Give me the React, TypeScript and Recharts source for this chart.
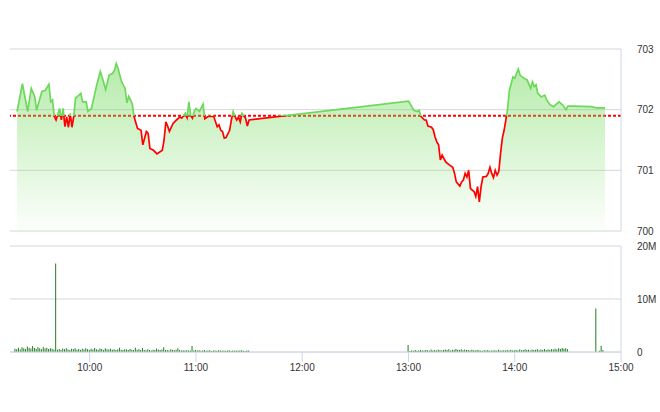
import React from 'react';
import { ComposedChart, Area, Line, Bar, XAxis, YAxis, CartesianGrid, ReferenceLine } from 'recharts';

// ---- data ----
const priceTimes = [
  '9:19', '9:22', '9:25', '9:27', '9:29', '9:30', '9:33', '9:35', '9:37', '9:38', '9:39', '9:40',
  '9:41', '9:43', '9:44', '9:45', '9:46', '9:47', '9:48', '9:49', '9:50', '9:51', '9:52', '9:55',
  '9:56', '9:58', '9:59', '10:01', '10:04', '10:06', '10:07', '10:09', '10:11', '10:13', '10:14', '10:15',
  '10:16', '10:18', '10:20', '10:21', '10:22', '10:24', '10:25', '10:27', '10:29', '10:30', '10:32', '10:33',
  '10:34', '10:36', '10:38', '10:41', '10:42', '10:43', '10:44', '10:45', '10:47', '10:49', '10:51', '10:52',
  '10:54', '10:55', '10:56', '10:57', '10:58', '10:59', '11:00', '11:02', '11:04', '11:05', '11:07', '11:10',
  '11:12', '11:13', '11:14', '11:15', '11:16', '11:17', '11:19', '11:20', '11:21', '11:22', '11:23', '11:24',
  '11:25', '11:26', '11:28', '11:29', '11:30',
  '13:00', '13:03', '13:05', '13:06', '13:07', '13:09', '13:10', '13:11', '13:13', '13:14', '13:15', '13:16',
  '13:17', '13:18', '13:19', '13:21', '13:23', '13:25', '13:26', '13:27', '13:29', '13:30', '13:31', '13:32',
  '13:33', '13:34', '13:35', '13:37', '13:38', '13:39', '13:40', '13:41', '13:42', '13:44', '13:45', '13:46',
  '13:47', '13:48', '13:49', '13:50', '13:51', '13:52', '13:53', '13:54', '13:55', '13:56', '13:57', '13:59',
  '14:00', '14:02', '14:03', '14:05', '14:07', '14:09', '14:10', '14:11', '14:12', '14:13', '14:15', '14:17',
  '14:18', '14:20', '14:22', '14:23', '14:25', '14:27', '14:29', '14:30', '14:33', '14:43', '14:46', '14:51',
];
const prices = [
  701.97, 702.43, 701.97, 702.35, 702.21, 701.99, 702.30, 702.32, 702.42, 702.13, 702.16, 701.89,
  701.83, 702.02, 701.83, 702.02, 701.72, 701.88, 701.71, 701.94, 701.71, 701.89, 702.19, 702.27,
  702.13, 702.13, 701.97, 702.02, 702.41, 702.63, 702.54, 702.33, 702.57, 702.60, 702.65, 702.76,
  702.68, 702.46, 702.35, 702.11, 702.22, 702.10, 701.89, 701.69, 701.66, 701.42, 701.64, 701.61,
  701.36, 701.33, 701.27, 701.33, 701.50, 701.80, 701.73, 701.64, 701.77, 701.83, 701.88, 701.86,
  701.94, 701.87, 702.13, 701.91, 701.86, 701.97, 702.02, 701.97, 702.09, 701.85, 701.89, 701.89,
  701.72, 701.75, 701.66, 701.64, 701.53, 701.54, 701.66, 701.83, 701.97, 701.89, 701.83, 701.88,
  701.80, 701.94, 701.86, 701.73, 701.83,
  702.14, 701.99, 701.97, 701.99, 701.89, 701.83, 701.83, 701.73, 701.71, 701.67, 701.55, 701.47,
  701.42, 701.17, 701.25, 701.14, 701.09, 701.05, 700.95, 700.81, 700.74, 700.81, 700.84, 700.95,
  700.89, 701.00, 700.70, 700.65, 700.57, 700.73, 700.48, 700.73, 700.89, 700.90, 700.95, 701.05,
  700.95, 700.88, 701.00, 700.92, 700.98, 701.28, 701.53, 701.66, 701.83, 702.02, 702.32, 702.54,
  702.52, 702.67, 702.57, 702.52, 702.49, 702.35, 702.46, 702.38, 702.41, 702.27, 702.21, 702.24,
  702.16, 702.08, 702.05, 702.08, 702.13, 702.08, 702.00, 702.06, 702.06, 702.05, 702.03, 702.03,
];
const referencePrice = 701.9;
const priceTicks = [700, 701, 702, 703];

// volumes in thousand shares, one per minute from the start time
const volumeMorningStart = '9:18';
const volumeMorning = [
  620, 540, 780, 450, 900, 700, 560, 1050, 820, 640, 1150, 760, 590, 880, 700, 520, 960, 640, 780, 560, 700, 620, 480,
  16700,
  420, 560, 380, 640, 500, 720, 460, 380, 600, 520, 700, 440, 560, 380, 620, 480, 700, 540, 420,
  600, 480, 760, 520, 420, 640, 560, 380, 700, 500, 460, 600, 420, 540, 380, 480, 820, 440, 360, 520, 460, 400, 580, 440, 360, 820, 420, 500, 380, 760,
  400, 340, 520, 380, 300, 440, 360, 640, 420, 380, 460, 900, 400, 360, 300, 520, 380, 340, 420, 700, 360, 300, 320, 280, 340, 300, 280, 1150, 300, 380,
  260, 320, 220, 300, 380, 240, 280, 340, 200, 300, 260, 220, 320, 280, 240, 300, 220, 260, 340, 200, 280, 240, 300, 220, 260, 320, 240, 200, 280, 300,
];
const volumeAfternoonStart = '13:00';
const volumeAfternoon = [
  1300,
  200, 300, 240, 360, 220, 280, 400, 300, 260, 380, 320, 240, 460, 300, 360, 280, 420, 340, 300, 380,
  460, 380, 520, 300, 440, 360, 560, 420, 380, 500, 340, 460, 400, 360, 300, 420, 340, 280, 380, 320,
  280, 240, 320, 260, 380, 220, 300, 280, 340, 240, 420, 300, 260, 340, 280, 360, 300, 420, 260, 340,
  380, 300, 460, 340, 400, 520, 360, 440, 300, 480, 380, 420, 520, 340, 460, 400, 560, 380, 480, 420,
  520, 460, 600, 480, 700, 560, 760, 620, 720, 500,
];
const volumeCloseTimes = ['14:46', '14:48', '14:49', '14:50'];
const volumeClose = [8200, 250, 1200, 380];
const volumeTicks = [0, 10, 20]; // millions
const timeTicks = ['10:00', '11:00', '12:00', '13:00', '14:00', '15:00'];
const timeDomain = ['9:15', '15:00'];

// ---- helpers ----
const toMin = (s: string) => {
  const [h, m] = s.split(':').map(Number);
  return h * 60 + m;
};
const fmtTime = (v: number) => {
  const h = Math.floor(v / 60);
  const m = Math.round(v % 60);
  return `${h < 10 ? '0' + h : h}:${m < 10 ? '0' + m : m}`;
};

const priceData = priceTimes.map((t, i) => ({ t: toMin(t), p: prices[i] }));
const volumeData = [
  ...volumeMorning.map((v, i) => ({ t: toMin(volumeMorningStart) + i, v: v / 1000 })),
  ...volumeAfternoon.map((v, i) => ({ t: toMin(volumeAfternoonStart) + i, v: v / 1000 })),
  ...volumeClose.map((v, i) => ({ t: toMin(volumeCloseTimes[i]), v: v / 1000 })),
];

const maxP = Math.max(...prices);
const minP = Math.min(...prices);
const splitOff = (maxP - referencePrice) / (maxP - minP);

const FONT = '"Liberation Sans", Arial, sans-serif';
const tickStyle = { fontSize: 10, fill: '#333333', fontFamily: FONT };
const xDomain = [toMin(timeDomain[0]), toMin(timeDomain[1])];
const xTicks = timeTicks.map(toMin);

export default function App() {
  return (
    <div style={{ position: 'absolute', left: 0, top: 0, width: 660, height: 412, background: '#fff' }}>
      <div style={{ position: 'absolute', left: 0, top: 0 }}>
        <ComposedChart width={660} height={240} data={priceData} margin={{ top: 49, right: 0, bottom: 9, left: 10 }}>
          <defs>
            <linearGradient id="priceStroke" x1="0" y1="0" x2="0" y2="1">
              <stop offset={splitOff} stopColor="#6cd95a" />
              <stop offset={splitOff} stopColor="#ff0000" />
            </linearGradient>
            <linearGradient id="priceFill" x1="0" y1="0" x2="0" y2="1">
              <stop offset="0" stopColor="#74da5e" stopOpacity={0.88} />
              <stop offset="1" stopColor="#74da5e" stopOpacity={0.03} />
            </linearGradient>
          </defs>
          <CartesianGrid vertical={false} stroke="#d6d6d6" />
          <XAxis dataKey="t" type="number" domain={xDomain} ticks={xTicks} hide allowDataOverflow />
          <YAxis
            orientation="right"
            domain={[700, 703]}
            ticks={priceTicks}
            width={39}
            tickLine={false}
            tickSize={6}
            tickMargin={10}
            axisLine={{ stroke: '#ccd6eb' }}
            tick={tickStyle}
            allowDataOverflow
          />
          <ReferenceLine y={referencePrice} stroke="#ff0000" strokeWidth={2} strokeDasharray="3 2" zIndex={50} />
          <Area
            dataKey="p"
            type="linear"
            stroke="none"
            fill="url(#priceFill)"
            baseValue="dataMin"
            isAnimationActive={false}
            dot={false}
            activeDot={false}
          />
          <Line
            dataKey="p"
            type="linear"
            stroke="url(#priceStroke)"
            strokeWidth={1.7}
            dot={false}
            activeDot={false}
            isAnimationActive={false}
          />
        </ComposedChart>
      </div>
      <div style={{ position: 'absolute', left: 0, top: 240 }}>
        <ComposedChart width={660} height={172} data={volumeData} margin={{ top: 6, right: 0, bottom: 30, left: 10 }}>
          <CartesianGrid vertical={false} stroke="#d6d6d6" />
          <XAxis
            dataKey="t"
            type="number"
            domain={xDomain}
            ticks={xTicks}
            tickFormatter={fmtTime}
            height={30}
            tickSize={10}
            tickMargin={2}
            axisLine={{ stroke: '#ccd6eb' }}
            tickLine={{ stroke: '#ccd6eb' }}
            tick={tickStyle}
            allowDataOverflow
          />
          <YAxis
            orientation="right"
            domain={[0, 20]}
            ticks={volumeTicks}
            width={39}
            tickLine={false}
            tickSize={6}
            tickMargin={10}
            axisLine={{ stroke: '#ccd6eb' }}
            tick={tickStyle}
            tickFormatter={(v: number) => (v === 0 ? '0' : `${v}M`)}
            allowDataOverflow
          />
          <Bar dataKey="v" fill="#1f7d1f" barSize={1} isAnimationActive={false} />
        </ComposedChart>
      </div>
    </div>
  );
}
